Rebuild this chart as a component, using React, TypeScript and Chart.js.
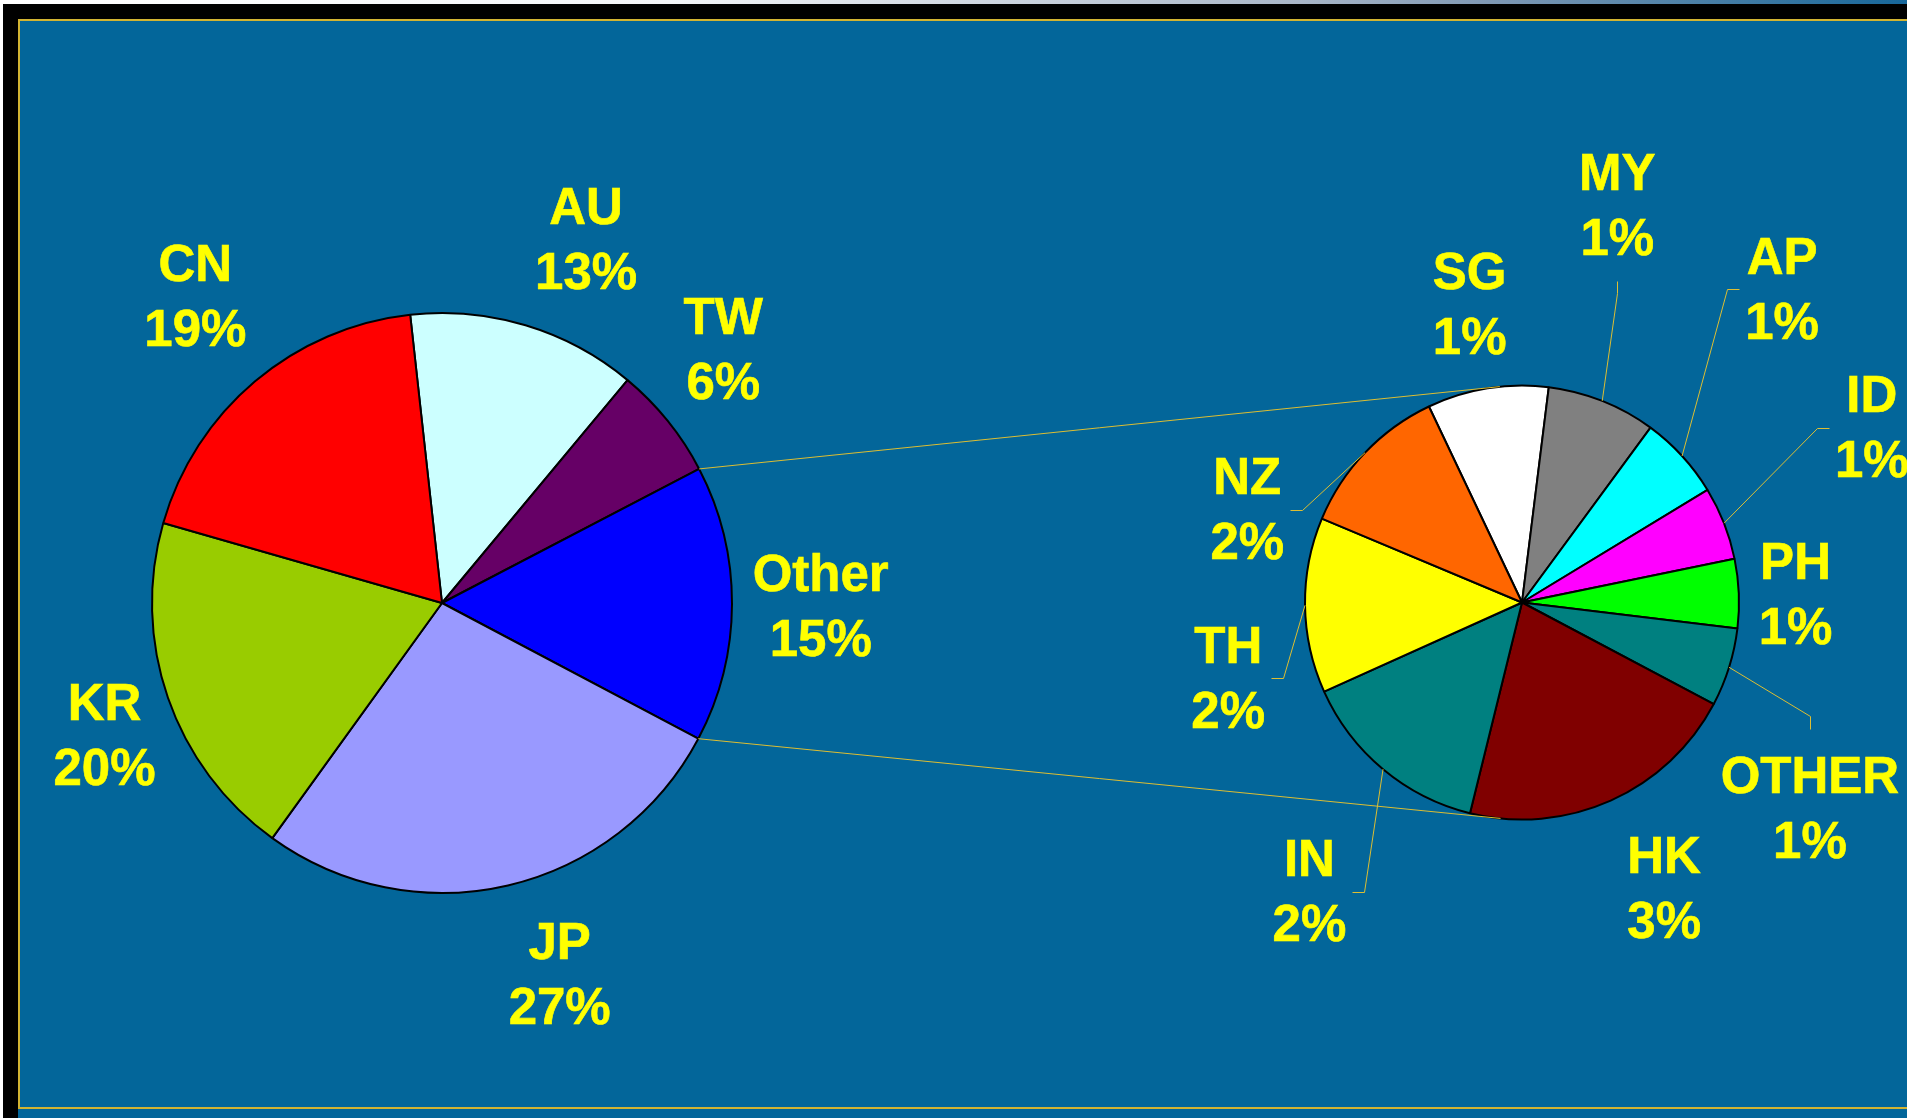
import React, { useEffect, useRef } from "react";
import { Chart, registerables } from "chart.js";

Chart.register(...registerables);

// ---------------- data ----------------
const mainLabels = ["AU", "TW", "Other", "JP", "KR", "CN"];
const mainValues = [12.8, 6.3, 15.4, 27.2, 19.5, 18.8];
const mainColors = ["#CCFFFF", "#660066", "#0000FF", "#9999FF", "#99CC00", "#FF0000"];

const subLabels = ["SG", "MY", "AP", "ID", "PH", "OTHER", "HK", "IN", "TH", "NZ"];
const subValues = [1.39, 1.25, 0.96, 0.84, 0.79, 0.9, 3.25, 2.22, 2.01, 1.79];
const subColors = ["#FFFFFF", "#808080", "#00FFFF", "#FF00FF", "#00FF00", "#008080", "#800000", "#008080", "#FFFF00", "#FF6600"];

const OTHER_INDEX = 2; // main-pie slice that is broken out into the second pie

// ---------------- layout / style ----------------
const W = 1919;
const H = 1118;
const FONT_PX = 51;
const FONT = `bold ${FONT_PX}px "Liberation Sans", Arial, sans-serif`;
const TEXT_COLOR = "#FFFF00";
const LINE_COLOR = "#DDBE33";
const BLUE = "#03669A";

const mainLabelNudge = [[33, 6], [-19, -11], [-7, 2], [30, -4], [27, 6], [2, -12]];
const subLabelNudge = [[-4, 2], [-17, -115], [36, -108], [67, -64], [-30, 5], [-2, 115], [18, 9], [-18, 56], [10, 72], [-55, 117]];
const mainLeader = [false, false, false, false, false, false];
const subLeader = [false, true, true, true, false, true, false, true, true, true];

const sum = (a: number[]) => a.reduce((s, v) => s + v, 0);
const grandTotal = sum(mainValues);
const px = (v: number) => Math.round(v) + 0.5;

function makeLabelPlugin(id: string, labels: string[], values: number[], K: number, nudges: number[][], leaders: boolean[]) {
  return {
    id,
    afterDatasetsDraw(chart: any) {
      const ctx = chart.ctx as CanvasRenderingContext2D;
      const meta = chart.getDatasetMeta(0);
      ctx.save();
      ctx.font = FONT;
      meta.data.forEach((arc: any, i: number) => {
        const { x, y, startAngle, endAngle, outerRadius } = arc.getProps(["x", "y", "startAngle", "endAngle", "outerRadius"], true);
        const mid = (startAngle + endAngle) / 2;
        const ux = Math.cos(mid);
        const uy = Math.sin(mid);
        const cx = x + ux * outerRadius * K + nudges[i][0];
        const cy = y + uy * outerRadius * K + nudges[i][1];
        const line1 = labels[i];
        const line2 = Math.round((values[i] / grandTotal) * 100) + "%";
        const w = Math.max(ctx.measureText(line1).width, ctx.measureText(line2).width);
        const left = cx - w / 2;
        const right = cx + w / 2;
        const top = cy - 52;
        const bottom = cy + 52;
        if (leaders[i]) {
          const ax = x + ux * outerRadius;
          const ay = y + uy * outerRadius;
          let ex, ey, fx, fy;
          if (ax < left) {
            ex = left - 18; fx = left - 6; ey = cy; fy = cy;
          } else if (ax > right) {
            ex = right + 18; fx = right + 6; ey = cy; fy = cy;
          } else if (ay > bottom) {
            ex = cx; fx = cx; ey = bottom + 36; fy = bottom + 24;
          } else {
            ex = cx; fx = cx; ey = top - 40; fy = top - 27;
          }
          ctx.strokeStyle = LINE_COLOR;
          ctx.lineWidth = 1;
          ctx.beginPath();
          ctx.moveTo(ax, ay);
          ctx.lineTo(px(ex), px(ey));
          ctx.lineTo(px(fx), px(fy));
          ctx.stroke();
        }
        ctx.fillStyle = TEXT_COLOR;
        ctx.strokeStyle = TEXT_COLOR;
        ctx.lineWidth = 0.6;
        ctx.textAlign = "center";
        ctx.textBaseline = "alphabetic";
        ctx.fillText(line1, cx, cy - 15.5);
        ctx.strokeText(line1, cx, cy - 15.5);
        ctx.fillText(line2, cx, cy + 49.5);
        ctx.strokeText(line2, cx, cy + 49.5);
      });
      ctx.restore();
    },
  };
}

function makeConnectorPlugin(getMain: () => any) {
  return {
    id: "connectors",
    afterDatasetsDraw(chart: any) {
      const main = getMain();
      if (!main) return;
      const mArc = main.getDatasetMeta(0).data[OTHER_INDEX];
      const sArc = chart.getDatasetMeta(0).data[0];
      if (!mArc || !sArc) return;
      const m = mArc.getProps(["x", "y", "startAngle", "endAngle", "outerRadius"], true);
      const s = sArc.getProps(["x", "y", "outerRadius"], true);
      const ctx = chart.ctx as CanvasRenderingContext2D;
      ctx.save();
      ctx.strokeStyle = LINE_COLOR;
      ctx.lineWidth = 1;
      [m.startAngle, m.endAngle].forEach((ang: number, k: number) => {
        const p0 = m.x + Math.cos(ang) * m.outerRadius;
        const p1 = m.y + Math.sin(ang) * m.outerRadius;
        const dx = p0 - s.x;
        const dy = p1 - s.y;
        const d = Math.hypot(dx, dy);
        const th = Math.atan2(dy, dx);
        const a = Math.acos(s.outerRadius / d);
        const cand = [th + a, th - a].map((t) => [s.x + Math.cos(t) * s.outerRadius, s.y + Math.sin(t) * s.outerRadius]);
        cand.sort((p, q) => p[1] - q[1]);
        const t = k === 0 ? cand[0] : cand[1];
        ctx.beginPath();
        ctx.moveTo(p0, p1);
        ctx.lineTo(t[0], t[1]);
        ctx.stroke();
      });
      ctx.restore();
    },
  };
}

export default function App() {
  const mainRef = useRef<HTMLCanvasElement>(null);
  const subRef = useRef<HTMLCanvasElement>(null);

  useEffect(() => {
    let mainChart: any = null;
    const common = {
      responsive: false,
      animation: false as const,
      events: [] as any[],
      plugins: { legend: { display: false }, tooltip: { enabled: false } },
    };
    mainChart = new Chart(mainRef.current!, {
      type: "pie",
      data: {
        labels: mainLabels,
        datasets: [
          {
            data: mainValues,
            backgroundColor: mainColors,
            borderColor: "#000000",
            borderWidth: 2,
            rotation: -6.3,
            radius: 290,
          } as any,
        ],
      },
      options: {
        ...common,
        rotation: -6.3,
        radius: 290,
        layout: { padding: { left: 0, right: 1035, top: 88, bottom: 0 } },
      } as any,
      plugins: [makeLabelPlugin("mainLabels", mainLabels, mainValues, 1.33, mainLabelNudge, mainLeader)],
    });
    const subChart = new Chart(subRef.current!, {
      type: "pie",
      data: {
        labels: subLabels,
        datasets: [
          {
            data: subValues,
            backgroundColor: subColors,
            borderColor: "#000000",
            borderWidth: 2,
            rotation: -25.4,
            radius: 217,
          } as any,
        ],
      },
      options: {
        ...common,
        rotation: -25.4,
        radius: 217,
        layout: { padding: { left: 1125, right: 0, top: 87, bottom: 0 } },
      } as any,
      plugins: [
        makeConnectorPlugin(() => mainChart),
        makeLabelPlugin("subLabels", subLabels, subValues, 1.4, subLabelNudge, subLeader),
      ],
    });
    subChart.update("none");
    return () => {
      subChart.destroy();
      mainChart.destroy();
    };
  }, []);

  const abs = (s: React.CSSProperties): React.CSSProperties => ({ position: "absolute", ...s });

  return (
    <div style={{ position: "fixed", left: 0, top: 0, width: W, height: H, background: "#FFFFFF", overflow: "hidden" }}>
      {/* frame */}
      <div style={abs({ left: 3, top: 0, width: 1904, height: 4, background: "linear-gradient(to right, #ffffff 0%, #f3f5f8 35%, #a9b6c8 68%, #7f98b4 78%, #17679a 100%)" })} />
      <div style={abs({ left: 3, top: 4, width: 1904, height: 15, background: "#000000" })} />
      <div style={abs({ left: 3, top: 4, width: 15, height: H - 4, background: "#000000" })} />
      <div style={abs({ left: 18, top: 19, width: 1889, height: H - 19, background: BLUE })} />
      <div style={abs({ left: 18, top: 19, width: 1889, height: 2, background: "#D2B432" })} />
      <div style={abs({ left: 18, top: 1107, width: 1889, height: 2, background: "#D2B432" })} />
      <div style={abs({ left: 18, top: 19, width: 2, height: 1090, background: "#D2B432" })} />
      {/* charts */}
      <canvas ref={mainRef} width={W} height={H} style={abs({ left: 0, top: 0, width: W, height: H })} />
      <canvas ref={subRef} width={W} height={H} style={abs({ left: 0, top: 0, width: W, height: H })} />
      {/* right white edge clips labels */}
      <div style={abs({ left: 1907, top: 0, width: 12, height: H, background: "#FFFFFF" })} />
    </div>
  );
}
